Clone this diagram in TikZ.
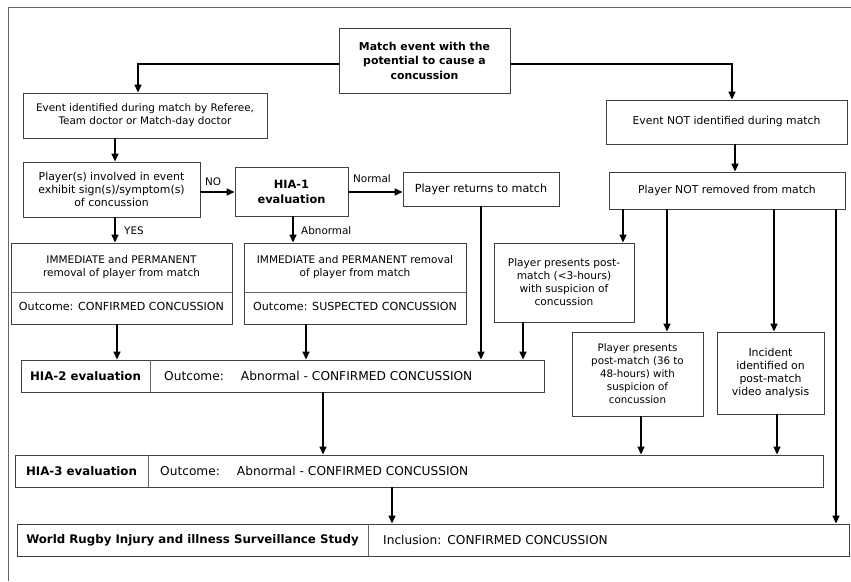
\documentclass[tikz,border=0pt]{standalone}
\usepackage{fontspec}
\setmainfont{DejaVu Sans}
\usetikzlibrary{arrows.meta}
\newcommand\myfs[1]{\fontsize{#1}{13}\selectfont}
\begin{document}
\begin{tikzpicture}[x=1pt,y=-1pt,
  box/.style={draw=black!75, line width=0.9pt, inner sep=0pt, align=center, font=\myfs{10.8}},
  txt/.style={inner sep=0pt, align=center, font=\myfs{10.8}},
  btxt/.style={inner sep=0pt, align=center, font=\bfseries\myfs{11.8}},
  lbl/.style={inner sep=0pt, font=\myfs{10.4}},
  divl/.style={draw=black!60, line width=0.8pt},
  arr/.style={line width=1.5pt, -{Triangle[length=8pt,width=7pt]}}]
\useasboundingbox (0,0) rectangle (851,581);
\draw[black!60, line width=0.8pt] (8,581) -- (8,7) -- (851,7);

% boxes
\node[box, minimum width=171pt, minimum height=65pt, font=\bfseries\fontsize{10.9}{14.5}\selectfont] (top) at (424.5,60.5) {Match event with the\\potential to cause a\\concussion};
\node[box, minimum width=244pt, minimum height=45pt, font=\myfs{10.4}] (evid) at (145,115.5) {Event identified during match by Referee,\\Team doctor or Match-day doctor};
\node[box, minimum width=177pt, minimum height=55pt, font=\myfs{10.9}] (inv) at (111.5,189.5) {Player(s) involved in event\\exhibit sign(s)/symptom(s)\\of concussion};
\node[box, minimum width=113pt, minimum height=49pt, font=\bfseries\fontsize{11.4}{15}\selectfont] (hia1) at (291.5,191.5) {HIA-1\\evaluation};
\node[box, minimum width=156pt, minimum height=34pt, font=\myfs{11.2}] (ret) at (481,189) {Player returns to match};
\node[box, minimum width=241pt, minimum height=44pt] (enot) at (726.5,122) {Event NOT identified during match};
\node[box, minimum width=236pt, minimum height=37pt] (notrem) at (727,190.5) {Player NOT removed from match};

\node[box, minimum width=221pt, minimum height=81pt] (imm1) at (121.5,283.5) {};
\draw[divl] (imm1.west |- 0,292) -- (imm1.east |- 0,292);
\node[txt, font=\myfs{10.5}] (imm1t) at (121.5,267) {IMMEDIATE and PERMANENT\\removal of player from match};
\node[txt, font=\myfs{11.1}] (imm1o) at (121.5,306) {Outcome: CONFIRMED CONCUSSION};

\node[box, minimum width=222pt, minimum height=81pt] (imm2) at (355,283.5) {};
\draw[divl] (imm2.west |- 0,292) -- (imm2.east |- 0,292);
\node[txt, font=\myfs{10.5}] (imm2t) at (355,267) {IMMEDIATE and PERMANENT removal\\of player from match};
\node[txt, font=\myfs{11.1}] (imm2o) at (355,306) {Outcome: SUSPECTED CONCUSSION};

\node[box, minimum width=140pt, minimum height=79pt, font=\myfs{10.6}] (lt3) at (564,282.5) {Player presents post-\\match (<3-hours)\\with suspicion of\\concussion};
\node[box, minimum width=131pt, minimum height=84pt, font=\myfs{10.3}] (h48) at (637.5,374) {Player presents\\post-match (36 to\\48-hours) with\\suspicion of\\concussion};
\node[box, minimum width=107pt, minimum height=82pt, font=\myfs{10.9}] (inc) at (770.5,373) {Incident\\identified on\\post-match\\video analysis};

\node[box, minimum width=523pt, minimum height=32pt] (hia2) at (282.5,376) {};
\draw[divl] (150,0 |- hia2.north) -- (150,0 |- hia2.south);
\node[btxt] (hia2a) at (85.5,376) {HIA-2 evaluation};
\node[txt, anchor=west, font=\myfs{12.2}] (hia2b) at (164,376) {Outcome:\hspace{17pt}Abnormal - CONFIRMED CONCUSSION};

\node[box, minimum width=808pt, minimum height=32pt] (hia3) at (419,471) {};
\draw[divl] (148,0 |- hia3.north) -- (148,0 |- hia3.south);
\node[btxt] (hia3a) at (81.5,471) {HIA-3 evaluation};
\node[txt, anchor=west, font=\myfs{12.2}] (hia3b) at (160,471) {Outcome:\hspace{17pt}Abnormal - CONFIRMED CONCUSSION};

\node[box, minimum width=832pt, minimum height=32pt] (wr) at (433,540) {};
\draw[divl] (368,0 |- wr.north) -- (368,0 |- wr.south);
\node[btxt] (wra) at (192.5,540) {World Rugby Injury and illness Surveillance Study};
\node[txt, anchor=west, font=\myfs{12.2}] (wrb) at (383,540) {Inclusion:\hspace{6pt}CONFIRMED CONCUSSION};

% connectors
\coordinate (bl) at (138,64);
\coordinate (br) at (732,64);
\draw[arr] (top.west |- bl) -- (bl) -- (bl |- evid.north);
\draw[arr] (top.east |- br) -- (br) -- (br |- enot.north);
\draw[arr] (115,0 |- evid.south) -- (115,0 |- inv.north);
\draw[arr] (inv.east |- 0,192) -- (hia1.west |- 0,192);
\node[lbl] (no) at (213,182) {NO};
\draw[arr] (hia1.east |- 0,192) -- (ret.west |- 0,192);
\node[lbl] (nrm) at (372,179) {Normal};
\draw[arr] (735,0 |- enot.south) -- (735,0 |- notrem.north);
\draw[arr] (115,0 |- inv.south) -- (115,0 |- imm1.north);
\node[lbl] (yes) at (134,231) {YES};
\draw[arr] (293,0 |- hia1.south) -- (293,0 |- imm2.north);
\node[lbl, anchor=west] (abn) at (301,231) {Abnormal};

\draw[arr] (623,0 |- notrem.south) -- (623,0 |- lt3.north);
\draw[arr] (667,0 |- notrem.south) -- (667,0 |- h48.north);
\draw[arr] (774,0 |- notrem.south) -- (774,0 |- inc.north);
\draw[arr] (836,0 |- notrem.south) -- (836,0 |- wr.north);

\draw[arr] (117,0 |- imm1.south) -- (117,0 |- hia2.north);
\draw[arr] (306,0 |- imm2.south) -- (306,0 |- hia2.north);
\draw[arr] (481,0 |- ret.south) -- (481,0 |- hia2.north);
\draw[arr] (523,0 |- lt3.south) -- (523,0 |- hia2.north);

\draw[arr] (323,0 |- hia2.south) -- (323,0 |- hia3.north);
\draw[arr] (641,0 |- h48.south) -- (641,0 |- hia3.north);
\draw[arr] (777,0 |- inc.south) -- (777,0 |- hia3.north);
\draw[arr] (392,0 |- hia3.south) -- (392,0 |- wr.north);
\end{tikzpicture}
\end{document}
